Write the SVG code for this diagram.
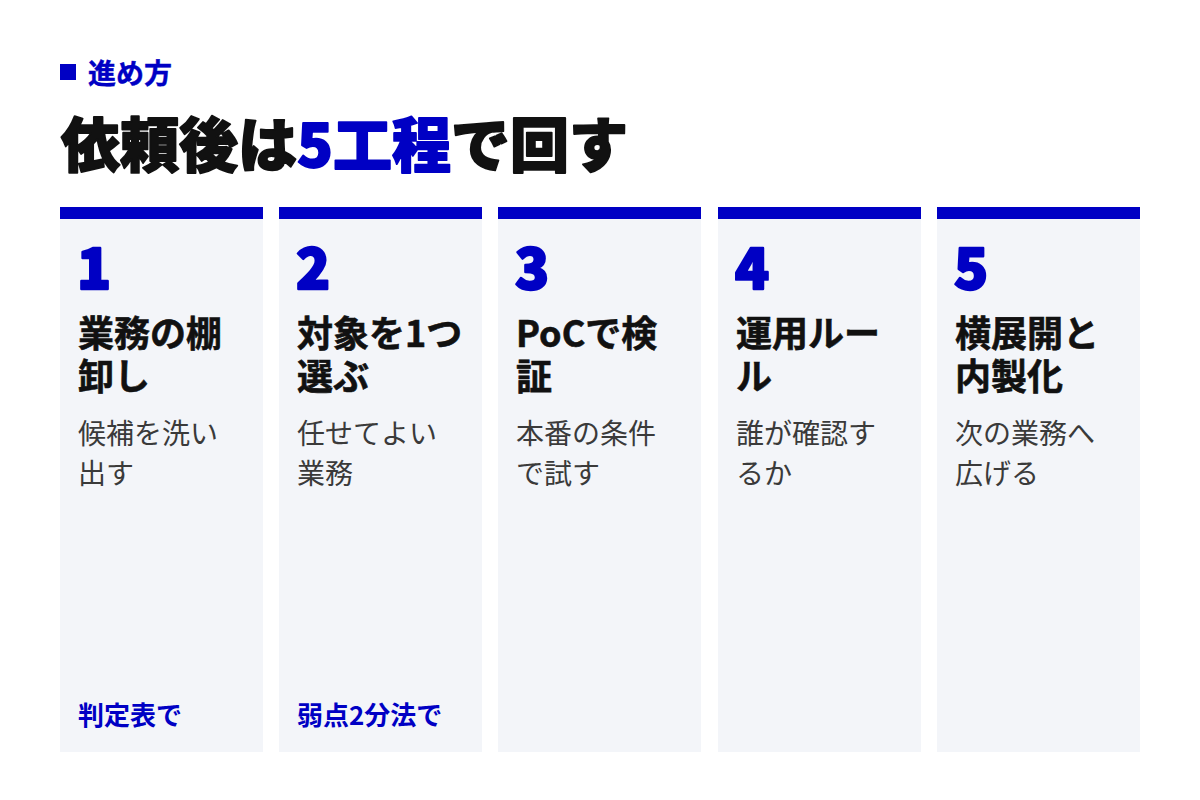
<svg xmlns="http://www.w3.org/2000/svg" width="1200" height="800" viewBox="0 0 1200 800">
  <style>
    text { font-family: "Noto Sans CJK JP", "Noto Sans", sans-serif; }
    .bar { fill: #0000c4; }
    .card { fill: #f3f5f9; }
    .num { font-size: 56px; font-weight: 900; fill: #0000c4; stroke: #0000c4; stroke-width: 2.4px; stroke-linejoin: round; }
    .ttl { font-size: 36px; font-weight: 700; fill: #111111; stroke: #111111; stroke-width: 0.6px; }
    .desc { font-size: 28px; font-weight: 400; fill: #3a3a3a; }
    .note { font-size: 26px; font-weight: 700; fill: #0000c4; }
  </style>
  <rect width="1200" height="800" fill="#ffffff"/>
  <g id="header">
    <rect x="60" y="64" width="16" height="16" fill="#0000c4"/>
    <text x="88" y="84" font-size="28" font-weight="700" fill="#0000c4" stroke="#0000c4" stroke-width="0.4">進め方</text>
    <text x="61" y="167" font-size="59" font-weight="900" fill="#111111" stroke="#111111" stroke-width="1.8" stroke-linejoin="round">依頼後は<tspan fill="#0000c4" stroke="#0000c4">5工程</tspan>で回す</text>
  </g>
  <g id="connectors"></g>
  <g id="step1">
    <rect class="card" x="60" y="219" width="203" height="533"/>
    <rect class="bar" x="60" y="207" width="203" height="12"/>
    <text class="num" x="77" y="289">1</text>
    <text class="ttl" x="78" y="347">業務の棚</text>
    <text class="ttl" x="78" y="390">卸し</text>
    <text class="desc" x="78" y="444">候補を洗い</text>
    <text class="desc" x="78" y="484">出す</text>
    <text class="note" x="78" y="725">判定表で</text>
  </g>
  <g id="step2">
    <rect class="card" x="279" y="219" width="203" height="533"/>
    <rect class="bar" x="279" y="207" width="203" height="12"/>
    <text class="num" x="296" y="289">2</text>
    <text class="ttl" x="297" y="347">対象を1つ</text>
    <text class="ttl" x="297" y="390">選ぶ</text>
    <text class="desc" x="297" y="444">任せてよい</text>
    <text class="desc" x="297" y="484">業務</text>
    <text class="note" x="297" y="725">弱点2分法で</text>
  </g>
  <g id="step3">
    <rect class="card" x="498" y="219" width="203" height="533"/>
    <rect class="bar" x="498" y="207" width="203" height="12"/>
    <text class="num" x="515" y="289">3</text>
    <text class="ttl" x="516" y="347">PoCで検</text>
    <text class="ttl" x="516" y="390">証</text>
    <text class="desc" x="516" y="444">本番の条件</text>
    <text class="desc" x="516" y="484">で試す</text>
  </g>
  <g id="step4">
    <rect class="card" x="718" y="219" width="203" height="533"/>
    <rect class="bar" x="718" y="207" width="203" height="12"/>
    <text class="num" x="735" y="289">4</text>
    <text class="ttl" x="736" y="347">運用ルー</text>
    <text class="ttl" x="736" y="390">ル</text>
    <text class="desc" x="736" y="444">誰が確認す</text>
    <text class="desc" x="736" y="484">るか</text>
  </g>
  <g id="step5">
    <rect class="card" x="937" y="219" width="203" height="533"/>
    <rect class="bar" x="937" y="207" width="203" height="12"/>
    <text class="num" x="954" y="289">5</text>
    <text class="ttl" x="955" y="347">横展開と</text>
    <text class="ttl" x="955" y="390">内製化</text>
    <text class="desc" x="955" y="444">次の業務へ</text>
    <text class="desc" x="955" y="484">広げる</text>
  </g>
</svg>
